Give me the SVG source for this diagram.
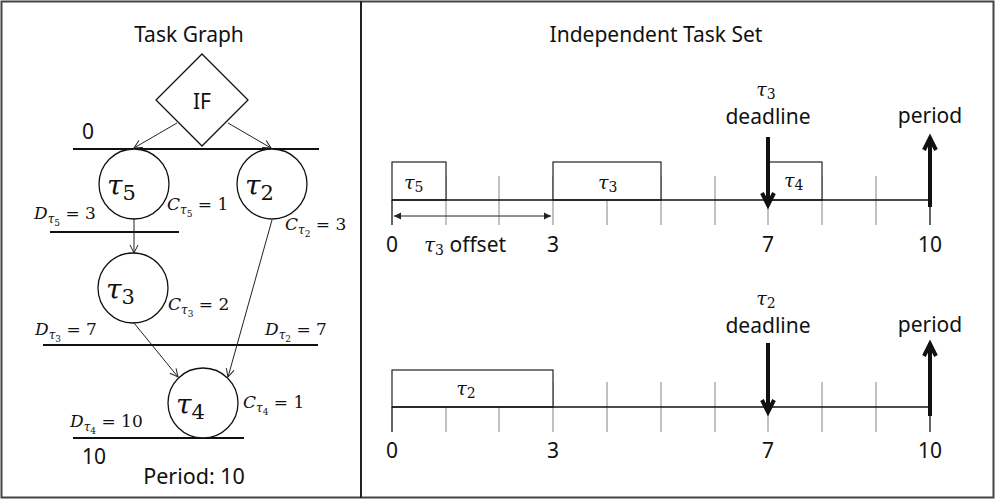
<svg xmlns="http://www.w3.org/2000/svg" width="995" height="499" viewBox="0 0 995 499">
<style>
.sans{font-family:"Noto Sans","Open Sans","Liberation Sans",sans-serif;fill:#111}
.math{font-family:"DejaVu Serif","Liberation Serif",serif;font-style:italic;fill:#111}
.up{font-style:normal}
.thick{stroke:#111;stroke-width:2;fill:none}
.thin{stroke:#222;stroke-width:1;fill:none}
.node{stroke:#111;stroke-width:1.3;fill:#fff}
.tick{stroke:#999;stroke-width:1.2}
.axis{stroke:#111;stroke-width:1.3}
.box{stroke:#222;stroke-width:1.2;fill:#fff}
.big{stroke:#111;stroke-width:4;fill:none}
</style>
<defs>
<marker id="open" markerWidth="10" markerHeight="10" refX="9" refY="5" orient="auto" markerUnits="userSpaceOnUse">
<path d="M1,1 L9,5 L1,9" fill="none" stroke="#222" stroke-width="1"/>
</marker>
<marker id="tri" markerWidth="8" markerHeight="8" refX="7" refY="4" orient="auto-start-reverse" markerUnits="userSpaceOnUse">
<path d="M0,0.5 L7,4 L0,7.5 Z" fill="#222"/>
</marker>
</defs>
<rect x="1.5" y="1.5" width="992" height="496" fill="#fff" stroke="#444" stroke-width="2"/>
<line x1="361" y1="1" x2="361" y2="498" stroke="#222" stroke-width="2"/>

<!-- Left panel -->
<text class="sans" x="189" y="42" font-size="21" text-anchor="middle">Task Graph</text>
<text class="sans" x="82" y="139" font-size="21">0</text>
<line class="thick" x1="73" y1="149" x2="319" y2="149"/>
<line class="thick" x1="50" y1="232" x2="179" y2="232"/>
<line class="thick" x1="43" y1="345" x2="318" y2="345"/>
<line class="thick" x1="73" y1="438" x2="244" y2="438"/>
<text class="sans" x="82" y="464" font-size="21">10</text>
<text class="sans" x="194" y="484" font-size="21.5" text-anchor="middle">Period: 10</text>

<g id="connectors">
<line class="thin" x1="177" y1="123" x2="134" y2="148" marker-end="url(#open)"/>
<line class="thin" x1="228" y1="123" x2="271" y2="148" marker-end="url(#open)"/>
<line class="thin" x1="134" y1="219" x2="134" y2="253" marker-end="url(#open)"/>
<line class="thin" x1="272" y1="220" x2="228" y2="377" marker-end="url(#open)"/>
<line class="thin" x1="134" y1="323" x2="178" y2="377" marker-end="url(#open)"/>
</g>

<g id="node-if">
<path class="node" d="M202,54 L248,100 L202,146 L156,100 Z"/>
<text class="sans" x="202" y="109" font-size="21" text-anchor="middle">IF</text>
</g>
<g id="node-tau5">
<circle class="node" cx="134" cy="184" r="35"/>
<text class="math" x="107" y="195" font-size="28">τ<tspan class="up" font-size="21" dy="5">5</tspan></text>
<text class="math" x="167" y="210" font-size="17">C<tspan font-size="12" dy="4">τ</tspan><tspan class="up" font-size="9" dy="3">5</tspan><tspan class="up" dy="-7"> = 1</tspan></text>
<text class="math" x="34" y="219" font-size="17">D<tspan font-size="12" dy="4">τ</tspan><tspan class="up" font-size="9" dy="3">5</tspan><tspan class="up" dy="-7"> = 3</tspan></text>
</g>
<g id="node-tau2">
<circle class="node" cx="272" cy="184" r="35"/>
<text class="math" x="245" y="195" font-size="28">τ<tspan class="up" font-size="21" dy="5">2</tspan></text>
<text class="math" x="285" y="230" font-size="17">C<tspan font-size="12" dy="4">τ</tspan><tspan class="up" font-size="9" dy="3">2</tspan><tspan class="up" dy="-7"> = 3</tspan></text>
<text class="math" x="265" y="335" font-size="17">D<tspan font-size="12" dy="4">τ</tspan><tspan class="up" font-size="9" dy="3">2</tspan><tspan class="up" dy="-7"> = 7</tspan></text>
</g>
<g id="node-tau3">
<circle class="node" cx="133" cy="288" r="35"/>
<text class="math" x="106" y="299" font-size="28">τ<tspan class="up" font-size="21" dy="5">3</tspan></text>
<text class="math" x="168" y="310" font-size="17">C<tspan font-size="12" dy="4">τ</tspan><tspan class="up" font-size="9" dy="3">3</tspan><tspan class="up" dy="-7"> = 2</tspan></text>
<text class="math" x="35" y="335" font-size="17">D<tspan font-size="12" dy="4">τ</tspan><tspan class="up" font-size="9" dy="3">3</tspan><tspan class="up" dy="-7"> = 7</tspan></text>
</g>
<g id="node-tau4">
<circle class="node" cx="203" cy="403" r="35"/>
<text class="math" x="176" y="414" font-size="28">τ<tspan class="up" font-size="21" dy="5">4</tspan></text>
<text class="math" x="243" y="408" font-size="17">C<tspan font-size="12" dy="4">τ</tspan><tspan class="up" font-size="9" dy="3">4</tspan><tspan class="up" dy="-7"> = 1</tspan></text>
<text class="math" x="70" y="427" font-size="17">D<tspan font-size="12" dy="4">τ</tspan><tspan class="up" font-size="9" dy="3">4</tspan><tspan class="up" dy="-7"> = 10</tspan></text>
</g>

<!-- Right panel -->
<text class="sans" x="656" y="42" font-size="21" text-anchor="middle">Independent Task Set</text>

<g id="timeline-1">
<g class="tick">
<line x1="446" y1="176" x2="446" y2="225"/><line x1="499" y1="176" x2="499" y2="225"/>
<line x1="553" y1="176" x2="553" y2="225"/><line x1="607" y1="176" x2="607" y2="225"/>
<line x1="661" y1="176" x2="661" y2="225"/><line x1="715" y1="176" x2="715" y2="225"/>
<line x1="768" y1="176" x2="768" y2="225"/><line x1="822" y1="176" x2="822" y2="225"/>
<line x1="876" y1="176" x2="876" y2="225"/>
</g>
<rect class="box" x="392" y="162" width="54" height="38"/>
<rect class="box" x="553" y="162" width="108" height="38"/>
<rect class="box" x="768" y="162" width="54" height="38"/>
<line class="axis" x1="392" y1="200" x2="930" y2="200"/>
<line class="axis" x1="392" y1="200" x2="392" y2="225"/>
<line class="axis" x1="930" y1="200" x2="930" y2="225"/>
<text class="math" x="404" y="189" font-size="19">τ<tspan class="up" font-size="14" dy="3">5</tspan></text>
<text class="math" x="598" y="189" font-size="19">τ<tspan class="up" font-size="14" dy="3">3</tspan></text>
<text class="math" x="784" y="187" font-size="19">τ<tspan class="up" font-size="14" dy="3">4</tspan></text>
<line class="thin" x1="394" y1="216" x2="551" y2="216" marker-start="url(#tri)" marker-end="url(#tri)"/>
<text class="sans" x="392" y="252" font-size="21" text-anchor="middle">0</text>
<text x="424" y="252" font-size="21"><tspan class="math" font-size="20">τ</tspan><tspan class="math up" font-size="14" dy="3">3</tspan><tspan class="sans" dy="-3"> offset</tspan></text>
<text class="sans" x="553" y="252" font-size="21" text-anchor="middle">3</text>
<text class="sans" x="768" y="252" font-size="21" text-anchor="middle">7</text>
<text class="sans" x="930" y="252" font-size="21" text-anchor="middle">10</text>
<text class="math" x="766" y="96" font-size="19" text-anchor="middle">τ<tspan class="up" font-size="14" dy="3">3</tspan></text>
<text class="sans" x="768" y="124" font-size="21" text-anchor="middle">deadline</text>
<path class="big" d="M768,137 L768,205 M762,193 L768,205 L774,193"/>
<text class="sans" x="930" y="123" font-size="21" text-anchor="middle">period</text>
<path class="big" d="M930,207 L930,137 M924,150 L930,138 L936,150"/>
</g>

<g id="timeline-2">
<g class="tick">
<line x1="446" y1="382" x2="446" y2="432"/><line x1="499" y1="382" x2="499" y2="432"/>
<line x1="553" y1="382" x2="553" y2="432"/><line x1="607" y1="382" x2="607" y2="432"/>
<line x1="661" y1="382" x2="661" y2="432"/><line x1="715" y1="382" x2="715" y2="432"/>
<line x1="768" y1="382" x2="768" y2="432"/><line x1="822" y1="382" x2="822" y2="432"/>
<line x1="876" y1="382" x2="876" y2="432"/>
</g>
<rect class="box" x="392" y="370" width="161" height="37"/>
<line class="axis" x1="392" y1="407" x2="930" y2="407"/>
<line class="axis" x1="392" y1="407" x2="392" y2="432"/>
<line class="axis" x1="930" y1="407" x2="930" y2="432"/>
<text class="math" x="466" y="395" font-size="19" text-anchor="middle">τ<tspan class="up" font-size="14" dy="3">2</tspan></text>
<text class="sans" x="392" y="458" font-size="21" text-anchor="middle">0</text>
<text class="sans" x="553" y="458" font-size="21" text-anchor="middle">3</text>
<text class="sans" x="768" y="458" font-size="21" text-anchor="middle">7</text>
<text class="sans" x="930" y="458" font-size="21" text-anchor="middle">10</text>
<text class="math" x="766" y="305" font-size="19" text-anchor="middle">τ<tspan class="up" font-size="14" dy="3">2</tspan></text>
<text class="sans" x="768" y="333" font-size="21" text-anchor="middle">deadline</text>
<path class="big" d="M768,343 L768,412 M762,400 L768,412 L774,400"/>
<text class="sans" x="930" y="332" font-size="21" text-anchor="middle">period</text>
<path class="big" d="M930,416 L930,343 M924,356 L930,344 L936,356"/>
</g>
</svg>
